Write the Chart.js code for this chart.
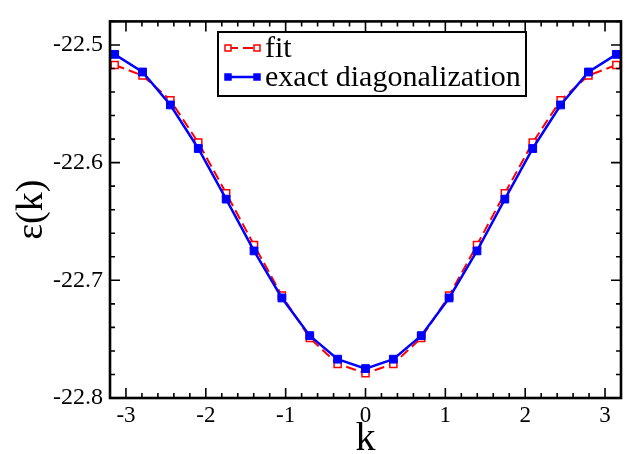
<!DOCTYPE html>
<html>
<head>
<meta charset="utf-8">
<script src="https://cdn.jsdelivr.net/npm/chart.js@4.4.1/dist/chart.umd.min.js"></script>
<style>
  html, body { margin: 0; padding: 0; background: #fff; }
  #box { width: 638px; height: 454px; }
</style>
</head>
<body>
<div id="box"><canvas id="chart"></canvas></div>
<script>
// k points (-pi .. pi, 19 points)
const kValues = [-3.1416, -2.7925, -2.4435, -2.0944, -1.7453, -1.3963, -1.0472, -0.6981, -0.3491, 0,
                 0.3491, 0.6981, 1.0472, 1.3963, 1.7453, 2.0944, 2.4435, 2.7925, 3.1416];
const fitValues = [-22.517, -22.526, -22.547, -22.583, -22.626, -22.670, -22.713, -22.749, -22.771, -22.779,
                   -22.771, -22.749, -22.713, -22.670, -22.626, -22.583, -22.547, -22.526, -22.517];
const exactValues = [-22.508, -22.523, -22.551, -22.588, -22.631, -22.675, -22.715, -22.747, -22.767, -22.775,
                     -22.767, -22.747, -22.715, -22.675, -22.631, -22.588, -22.551, -22.523, -22.508];
const seriesLabels = ['fit', 'exact diagonalization'];
const xTickValues = [-3, -2, -1, 0, 1, 2, 3];
const yTickValues = [-22.8, -22.7, -22.6, -22.5];
const xTitle = 'k';
const yTitle = 'ε(k)';

const serif = "'Liberation Serif', 'Times New Roman', serif";

// cadre + petites graduations vers l'intérieur sur les 4 côtés
const framePlugin = {
  id: 'frame',
  afterDraw(chart) {
    const ctx = chart.ctx;
    const a = chart.chartArea;
    const xs = chart.scales.x, ys = chart.scales.y;
    ctx.save();
    ctx.strokeStyle = '#000';
    ctx.lineWidth = 1.6;
    ctx.beginPath();
    for (let i = -16; i <= 16; i++) {
      const v = i * 0.2;
      const px = xs.getPixelForValue(v);
      const len = (i % 5 === 0) ? 10 : 5;
      ctx.moveTo(px, a.bottom); ctx.lineTo(px, a.bottom - len);
      ctx.moveTo(px, a.top); ctx.lineTo(px, a.top + len);
    }
    for (let i = 0; i <= 16; i++) {
      const v = -22.8 + i * 0.02;
      const py = ys.getPixelForValue(v);
      const len = (i % 5 === 0) ? 10 : 5;
      ctx.moveTo(a.left, py); ctx.lineTo(a.left + len, py);
      ctx.moveTo(a.right, py); ctx.lineTo(a.right - len, py);
    }
    ctx.stroke();
    ctx.lineWidth = 2.6;
    ctx.strokeRect(a.left, a.top, a.right - a.left, a.bottom - a.top);
    ctx.restore();
  }
};

// légende encadrée dans le graphe
const legendPlugin = {
  id: 'boxLegend',
  afterDraw(chart) {
    const ctx = chart.ctx;
    const bx = 218, by = 32, bw = 308, bh = 64;
    ctx.save();
    ctx.fillStyle = '#fff';
    ctx.fillRect(bx, by, bw, bh);
    ctx.strokeStyle = '#000';
    ctx.lineWidth = 2;
    ctx.strokeRect(bx, by, bw, bh);
    const rows = [48, 77];
    chart.data.datasets.forEach((ds, i) => {
      const y = rows[i];
      ctx.strokeStyle = ds.borderColor;
      ctx.lineWidth = ds.borderWidth;
      ctx.setLineDash(ds.borderDash || []);
      ctx.beginPath();
      ctx.moveTo(228, y); ctx.lineTo(257, y);
      ctx.stroke();
      ctx.setLineDash([]);
      [228, 257].forEach(px => {
        ctx.beginPath();
        ctx.rect(px - 3, y - 3, 6, 6);
        ctx.fillStyle = ds.pointBackgroundColor;
        ctx.fill();
        ctx.lineWidth = 1.5;
        ctx.strokeStyle = ds.pointBorderColor;
        ctx.stroke();
      });
      ctx.fillStyle = '#000';
      ctx.font = '30px ' + serif;
      ctx.textBaseline = 'middle';
      ctx.fillText(ds.label, 265, y + 1);
    });
    ctx.restore();
  }
};

const ctx = document.getElementById('chart').getContext('2d');
new Chart(ctx, {
  type: 'line',
  data: {
    datasets: [{
      label: seriesLabels[0],
      data: kValues.map((k, i) => ({ x: k, y: fitValues[i] })),
      borderColor: '#ff0000',
      borderWidth: 2,
      borderDash: [10, 5],
      pointStyle: 'rect',
      pointRadius: 5,
      pointBorderWidth: 1.5,
      pointBackgroundColor: '#ffffff',
      pointBorderColor: '#ff0000',
      order: 1
    }, {
      label: seriesLabels[1],
      data: kValues.map((k, i) => ({ x: k, y: exactValues[i] })),
      borderColor: '#0000ff',
      borderWidth: 2.5,
      pointStyle: 'rect',
      pointRadius: 5.5,
      pointBorderWidth: 1,
      pointBackgroundColor: '#0000ff',
      pointBorderColor: '#0000ff',
      order: 0
    }]
  },
  options: {
    responsive: true,
    maintainAspectRatio: false,
    animation: false,
    layout: { padding: { left: 0, right: 17, top: 8, bottom: 0 } },
    plugins: { legend: { display: false }, tooltip: { enabled: false } },
    scales: {
      x: {
        type: 'linear',
        min: -3.2, max: 3.2,
        grid: { display: false, drawTicks: false },
        border: { display: false },
        afterBuildTicks(scale) {
          scale.ticks = xTickValues.map(v => ({ value: v }));
        },
        ticks: { color: '#000', padding: 4, font: { family: serif, size: 23 } },
        title: { display: true, text: xTitle, color: '#000', padding: { top: 0, bottom: -5 },
                 font: { family: serif, size: 40, lineHeight: 1 } },
        afterFit(scale) { scale.height = 56; }
      },
      y: {
        type: 'linear',
        min: -22.8, max: -22.48,
        grid: { display: false, drawTicks: false },
        border: { display: false },
        afterBuildTicks(scale) {
          scale.ticks = yTickValues.map(v => ({ value: v }));
        },
        ticks: { color: '#000', padding: 7, font: { family: serif, size: 24 },
                 callback: v => v.toFixed(1) },
        title: { display: true, text: yTitle, color: '#000', padding: { top: 13, bottom: 0 },
                 font: { family: serif, size: 38, lineHeight: 1 } },
        afterFit(scale) { scale.width = 110; }
      }
    }
  },
  plugins: [framePlugin, legendPlugin]
});
</script>
</body>
</html>
